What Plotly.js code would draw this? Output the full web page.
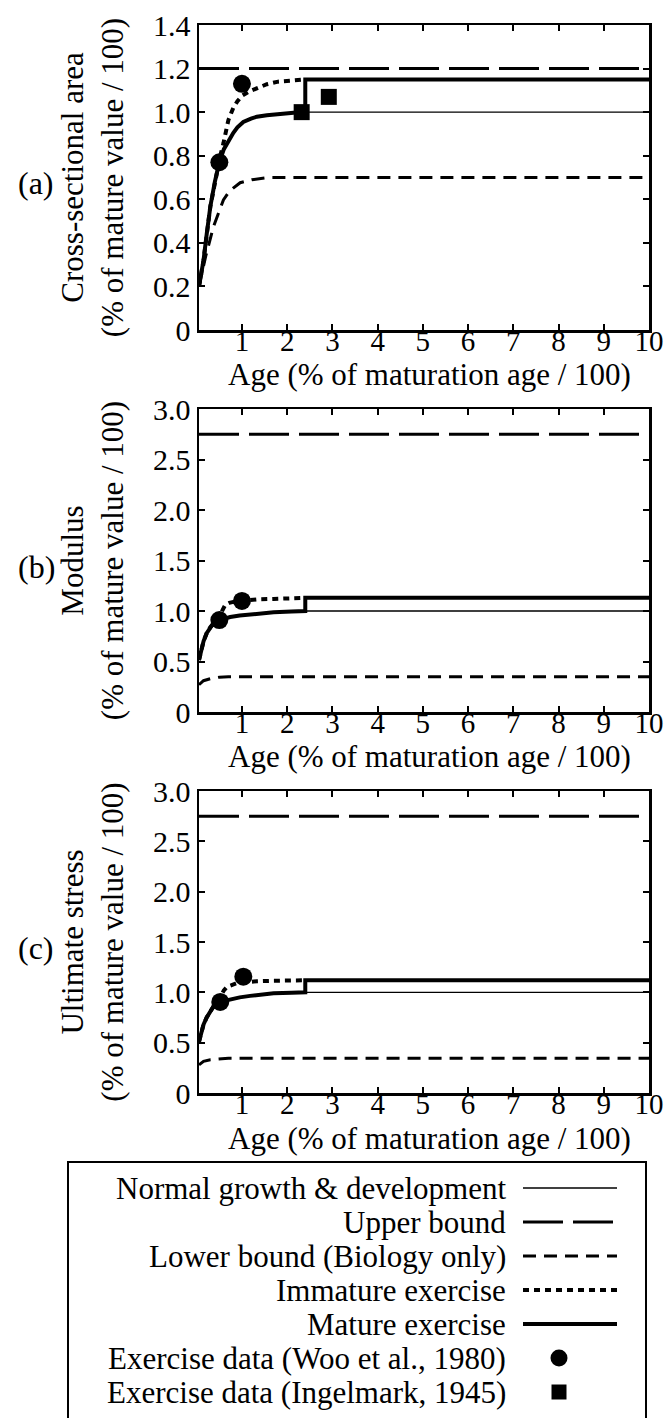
<!DOCTYPE html>
<html>
<head>
<meta charset="utf-8">
<script src="https://cdn.plot.ly/plotly-3.0.1.min.js"></script>
<style>
  html, body { margin: 0; padding: 0; background: #fff; }
  #chart { width: 667px; height: 1418px; }
</style>
</head>
<body>
<div id="chart"></div>
<script>
// ---------------- DATA ----------------
const xTickVals = [1, 2, 3, 4, 5, 6, 7, 8, 9, 10];
const xTickText = ['1', '2', '3', '4', '5', '6', '7', '8', '9', '10'];
const yTickValsA = [0, 0.2, 0.4, 0.6, 0.8, 1.0, 1.2, 1.4];
const yTickTextA = ['0', '0.2', '0.4', '0.6', '0.8', '1.0', '1.2', '1.4'];
const yTickValsBC = [0, 0.5, 1.0, 1.5, 2.0, 2.5, 3.0];
const yTickTextBC = ['0', '0.5', '1.0', '1.5', '2.0', '2.5', '3.0'];

const legendLabels = [
  'Normal growth & development',
  'Upper bound',
  'Lower bound (Biology only)',
  'Immature exercise',
  'Mature exercise',
  'Exercise data (Woo et al., 1980)',
  'Exercise data (Ingelmark, 1945)'
];
const panelLabels = ['(a)', '(b)', '(c)'];
const yTitles = [
  'Cross-sectional area<br>(% of mature value / 100)',
  'Modulus<br>(% of mature value / 100)',
  'Ultimate stress<br>(% of mature value / 100)'
];
const xTitle = 'Age (% of maturation age / 100)';

// Panel (a): cross-sectional area
const normalAx = [0.05, 0.1, 0.15, 0.22, 0.3, 0.4, 0.5, 0.6, 0.7, 0.81, 0.9, 1.03, 1.2, 1.33, 1.55, 1.77, 2.0, 2.2, 2.4, 10];
const normalAy = [0.2, 0.26, 0.32, 0.44, 0.566, 0.68, 0.77, 0.83, 0.868, 0.905, 0.93, 0.955, 0.97, 0.979, 0.986, 0.991, 0.995, 0.998, 1.0, 1.0];
const upperAx = [0.05, 10];
const upperAy = [1.2, 1.2];
const lowerAx = [0.05, 0.2, 0.37, 0.5, 0.59, 0.7, 0.8, 0.96, 1.22, 1.6, 10];
const lowerAy = [0.2, 0.34, 0.474, 0.55, 0.597, 0.63, 0.65, 0.676, 0.69, 0.7, 0.7];
const immatureAx = [0.05, 0.15, 0.3, 0.45, 0.52, 0.59, 0.65, 0.7, 0.76, 0.81, 0.9, 1.0, 1.15, 1.33, 1.55, 1.8, 2.0, 2.2, 2.4];
const immatureAy = [0.2, 0.32, 0.566, 0.73, 0.8, 0.857, 0.92, 0.964, 0.995, 1.02, 1.05, 1.075, 1.094, 1.11, 1.128, 1.14, 1.144, 1.147, 1.15];
const matureAx = [0.05, 0.1, 0.15, 0.22, 0.3, 0.4, 0.5, 0.6, 0.7, 0.81, 0.9, 1.03, 1.2, 1.33, 1.55, 1.77, 2.0, 2.2, 2.4, 2.4, 10];
const matureAy = [0.2, 0.26, 0.32, 0.44, 0.566, 0.68, 0.77, 0.83, 0.868, 0.905, 0.93, 0.955, 0.97, 0.979, 0.986, 0.991, 0.995, 0.998, 1.0, 1.15, 1.15];
const wooAx = [0.5, 1.0];
const wooAy = [0.77, 1.13];
const ingelAx = [2.32, 2.92];
const ingelAy = [1.0, 1.07];

// Panel (b): modulus
const normalBx = [0.05, 0.08, 0.1, 0.15, 0.22, 0.3, 0.37, 0.5, 0.6, 0.74, 0.95, 1.18, 1.45, 1.7, 2.1, 2.4, 10];
const normalBy = [0.515, 0.57, 0.61, 0.7, 0.78, 0.84, 0.88, 0.91, 0.925, 0.94, 0.955, 0.967, 0.978, 0.987, 0.995, 1.0, 1.0];
const upperBx = [0.05, 10];
const upperBy = [2.75, 2.75];
const lowerBx = [0.05, 0.1, 0.15, 0.3, 0.5, 0.7, 10];
const lowerBy = [0.27, 0.29, 0.31, 0.33, 0.345, 0.35, 0.35];
const immatureBx = [0.05, 0.1, 0.15, 0.22, 0.3, 0.4, 0.5, 0.56, 0.63, 0.72, 0.81, 1.0, 1.33, 1.7, 2.0, 2.4];
const immatureBy = [0.515, 0.61, 0.7, 0.78, 0.84, 0.89, 0.93, 1.0, 1.06, 1.08, 1.09, 1.10, 1.115, 1.12, 1.125, 1.13];
const matureBx = [0.05, 0.08, 0.1, 0.15, 0.22, 0.3, 0.37, 0.5, 0.6, 0.74, 0.95, 1.18, 1.45, 1.7, 2.1, 2.4, 2.4, 10];
const matureBy = [0.515, 0.57, 0.61, 0.7, 0.78, 0.84, 0.88, 0.91, 0.925, 0.94, 0.955, 0.967, 0.978, 0.987, 0.995, 1.0, 1.13, 1.13];
const wooBx = [0.5, 1.0];
const wooBy = [0.91, 1.10];

// Panel (c): ultimate stress
const normalCx = [0.05, 0.08, 0.1, 0.15, 0.22, 0.3, 0.37, 0.52, 0.6, 0.74, 0.95, 1.18, 1.45, 1.7, 2.1, 2.4, 10];
const normalCy = [0.51, 0.56, 0.6, 0.68, 0.75, 0.82, 0.86, 0.905, 0.915, 0.93, 0.95, 0.965, 0.978, 0.99, 0.997, 1.0, 1.0];
const upperCx = [0.05, 10];
const upperCy = [2.75, 2.75];
const lowerCx = [0.05, 0.1, 0.15, 0.3, 0.5, 0.7, 10];
const lowerCy = [0.28, 0.3, 0.315, 0.33, 0.34, 0.345, 0.345];
const immatureCx = [0.05, 0.1, 0.15, 0.22, 0.3, 0.37, 0.52, 0.6, 0.67, 0.78, 0.88, 1.1, 1.33, 1.7, 2.0, 2.4];
const immatureCy = [0.51, 0.6, 0.68, 0.75, 0.82, 0.86, 0.95, 1.02, 1.055, 1.075, 1.09, 1.10, 1.11, 1.115, 1.12, 1.12];
const matureCx = [0.05, 0.08, 0.1, 0.15, 0.22, 0.3, 0.37, 0.52, 0.6, 0.74, 0.95, 1.18, 1.45, 1.7, 2.1, 2.4, 2.4, 10];
const matureCy = [0.51, 0.56, 0.6, 0.68, 0.75, 0.82, 0.86, 0.905, 0.915, 0.93, 0.95, 0.965, 0.978, 0.99, 0.997, 1.0, 1.12, 1.12];
const wooCx = [0.52, 1.03];
const wooCy = [0.905, 1.155];

// ---------------- STYLE / LAYOUT ----------------
const W = 667, H = 1418;
const FONT = '"Liberation Serif", "DejaVu Serif", serif';
const px = v => v / W;
const py = v => 1 - v / H;

const styles = {
  normal:   { color: '#000', width: 1.3, dash: 'solid' },
  upper:    { color: '#000', width: 3, dash: '40px,10px' },
  lower:    { color: '#000', width: 3, dash: '13px,8px' },
  immature: { color: '#000', width: 4, dash: '6px,5px' },
  mature:   { color: '#000', width: 4, dash: 'solid' }
};

function line(x, y, style, ax) {
  return { type: 'scatter', mode: 'lines', x: x, y: y, xaxis: 'x' + ax, yaxis: 'y' + ax,
           line: Object.assign({}, style), hoverinfo: 'skip', cliponaxis: false };
}
function pts(x, y, symbol, size, ax) {
  return { type: 'scatter', mode: 'markers', x: x, y: y, xaxis: 'x' + ax, yaxis: 'y' + ax,
           marker: { symbol: symbol, size: size, color: '#000' }, hoverinfo: 'skip', cliponaxis: false };
}

const traces = [
  line(normalAx, normalAy, styles.normal, ''),
  line(upperAx, upperAy, styles.upper, ''),
  line(lowerAx, lowerAy, styles.lower, ''),
  line(immatureAx, immatureAy, styles.immature, ''),
  line(matureAx, matureAy, styles.mature, ''),
  pts(wooAx, wooAy, 'circle', 18, ''),
  pts(ingelAx, ingelAy, 'square', 16, ''),

  line(normalBx, normalBy, styles.normal, '2'),
  line(upperBx, upperBy, styles.upper, '2'),
  line(lowerBx, lowerBy, styles.lower, '2'),
  line(immatureBx, immatureBy, styles.immature, '2'),
  line(matureBx, matureBy, styles.mature, '2'),
  pts(wooBx, wooBy, 'circle', 18, '2'),

  line(normalCx, normalCy, styles.normal, '3'),
  line(upperCx, upperCy, styles.upper, '3'),
  line(lowerCx, lowerCy, styles.lower, '3'),
  line(immatureCx, immatureCy, styles.immature, '3'),
  line(matureCx, matureCy, styles.mature, '3'),
  pts(wooCx, wooCy, 'circle', 18, '3')
];

const xDomain = [px(199), px(649)];
const panels = [
  { top: 25, bottom: 330, range: [0, 1.4], tv: yTickValsA, tt: yTickTextA },
  { top: 409, bottom: 712, range: [0, 3], tv: yTickValsBC, tt: yTickTextBC },
  { top: 791, bottom: 1093, range: [0, 3], tv: yTickValsBC, tt: yTickTextBC }
];

const layout = {
  width: W, height: H,
  margin: { l: 0, r: 0, t: 0, b: 0, pad: 0 },
  paper_bgcolor: '#fff', plot_bgcolor: '#fff',
  font: { family: FONT, color: '#000', size: 30 },
  showlegend: false,
  annotations: [],
  shapes: []
};

panels.forEach((p, i) => {
  const s = i === 0 ? '' : String(i + 1);
  layout['xaxis' + s] = {
    domain: xDomain, anchor: 'y' + s, range: [0.05, 10],
    tickmode: 'array', tickvals: xTickVals, ticktext: xTickText,
    ticks: 'inside', ticklen: 6, tickwidth: 2, tickcolor: '#000',
    showline: true, linewidth: 2.5, linecolor: '#000', mirror: 'ticks',
    showgrid: false, zeroline: false, automargin: false,
    ticklabelstandoff: -16,
    tickfont: { family: FONT, size: 29, color: '#000' }
  };
  layout['yaxis' + s] = {
    domain: [py(p.bottom), py(p.top)], anchor: 'x' + s, range: p.range,
    tickmode: 'array', tickvals: p.tv, ticktext: p.tt,
    ticks: 'inside', ticklen: 6, tickwidth: 2, tickcolor: '#000',
    showline: true, linewidth: 2.5, linecolor: '#000', mirror: 'ticks',
    showgrid: false, zeroline: false, automargin: false,
    tickfont: { family: FONT, size: 30, color: '#000' },
    title: { text: yTitles[i], standoff: 20, font: { family: FONT, size: 31, color: '#000' } }
  };
  // x-axis title, placed just under the tick labels
  layout.annotations.push({
    text: xTitle, xref: 'paper', yref: 'paper',
    x: px(429), y: py(p.bottom + 45), xanchor: 'center', yanchor: 'middle',
    showarrow: false, borderpad: 0, font: { family: FONT, size: 31, color: '#000' }
  });
  layout.annotations.push({
    text: panelLabels[i], xref: 'paper', yref: 'paper',
    x: px(36), y: py((p.top + p.bottom) / 2 + 6), xanchor: 'center', yanchor: 'middle',
    showarrow: false, font: { family: FONT, size: 32, color: '#000' }
  });
});

// Legend box (drawn as decoration)
layout.shapes.push({
  type: 'rect', xref: 'paper', yref: 'paper',
  x0: px(68), x1: px(646), y0: py(1162), y1: py(1440),
  line: { color: '#000', width: 2 }, fillcolor: 'rgba(0,0,0,0)'
});
const rowY = [1188, 1222, 1256, 1290, 1324, 1358, 1392];
const sampleStyles = [styles.normal, styles.upper, styles.lower, styles.immature, styles.mature];
legendLabels.forEach((lab, i) => {
  layout.annotations.push({
    text: lab, xref: 'paper', yref: 'paper', x: px(507), y: py(rowY[i]),
    xanchor: 'right', yanchor: 'middle', showarrow: false, borderpad: 0,
    font: { family: FONT, size: 31, color: '#000' }
  });
  if (i < 5) {
    layout.shapes.push({
      type: 'line', xref: 'paper', yref: 'paper',
      x0: px(523), x1: px(617), y0: py(rowY[i]), y1: py(rowY[i]),
      line: Object.assign({}, sampleStyles[i])
    });
  } else if (i === 5) {
    layout.shapes.push({
      type: 'circle', xref: 'paper', yref: 'paper',
      x0: px(559 - 8.5), x1: px(559 + 8.5), y0: py(rowY[i] + 8.5), y1: py(rowY[i] - 8.5),
      line: { color: '#000', width: 0 }, fillcolor: '#000'
    });
  } else {
    layout.shapes.push({
      type: 'rect', xref: 'paper', yref: 'paper',
      x0: px(559 - 7.5), x1: px(559 + 7.5), y0: py(rowY[i] + 7.5), y1: py(rowY[i] - 7.5),
      line: { color: '#000', width: 0 }, fillcolor: '#000'
    });
  }
});

Plotly.newPlot('chart', traces, layout, { staticPlot: true, displayModeBar: false });
</script>
</body>
</html>
